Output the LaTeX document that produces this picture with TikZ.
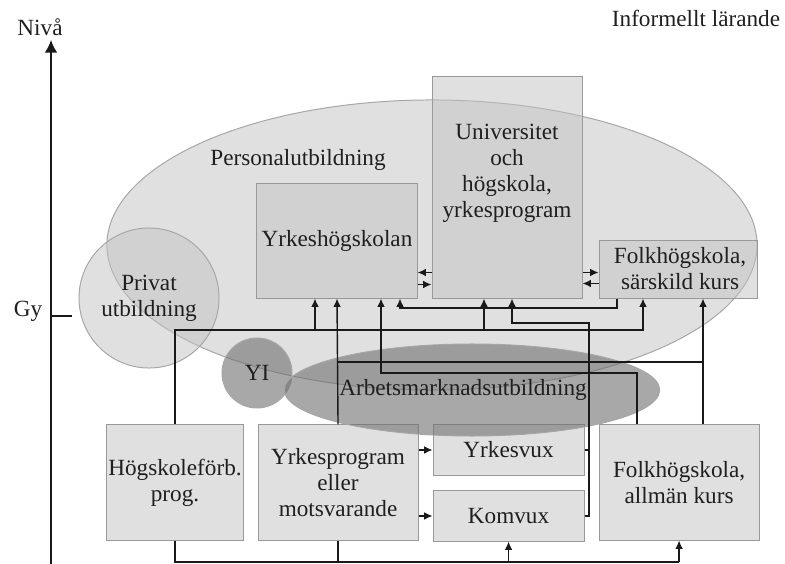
\documentclass[tikz,border=0pt]{standalone}
\usepackage{fontspec}
\setmainfont{Liberation Serif}
\usetikzlibrary{shapes.geometric, arrows.meta, positioning}

\begin{document}
\begin{tikzpicture}[x=0.025cm, y=-0.025cm, >={Latex[length=6pt,width=5.5pt]},
  font=\fontsize{16.5pt}{18.5pt}\selectfont, text=black!88,
  box/.style={draw=black!40, line width=0.7pt, fill=black!24, fill opacity=0.5,
    text opacity=1, inner sep=0pt, align=center},
  bubble/.style={ellipse, draw=black!35, line width=0.7pt, fill=black!24,
    fill opacity=0.5, text opacity=1, inner sep=0pt, align=center},
  darkbubble/.style={bubble, fill=black!57, fill opacity=0.6},
  link/.style={draw=black!90, line width=1pt}]
\useasboundingbox (0,0) rectangle (785,564);

% personalutbildning
\node[bubble, minimum width=16.25cm, minimum height=7.25cm] (personal) at (432,245) {};

% upper row
\node[box, minimum width=4cm, minimum height=2.85cm] (yhs) at (337,241) {Yrkeshögskolan};
\node[box, minimum width=3.75cm, minimum height=5.525cm, right=0.35cm of yhs.south east, anchor=south west] (univ)
  {Universitet\\och\\högskola,\\yrkesprogram\\ \strut};
\node[box, minimum width=3.95cm, minimum height=1.45cm, right=0.4cm of univ.south east, anchor=south west] (fhsk)
  {\hspace*{0.1cm}Folkhögskola,\\\hspace*{0.1cm}särskild kurs};

% lower row
\node[box, minimum width=3.4cm, minimum height=2.875cm] (hfp) at (175,482.5) {Högskoleförb.\\prog.};
\node[box, minimum width=4cm, minimum height=2.875cm, right=0.35cm of hfp] (yrkprog) {Yrkesprogram\\eller\\motsvarande};
\node[box, minimum width=3.775cm, minimum height=1.25cm, right=0.35cm of yrkprog.north east, anchor=north west] (yrkesvux) {Yrkesvux};
\node[box, minimum width=3.775cm, minimum height=1.25cm, below=0.375cm of yrkesvux] (komvux) {Komvux};
\node[box, minimum width=4cm, minimum height=2.875cm, right=0.35cm of yrkesvux.north east, anchor=north west] (fhak)
  {Folkhögskola,\\allmän kurs};

% bubbles
\node[bubble, circle, minimum size=3.5cm] (privat) at (149,298) {Privat\\utbildning};
\node[darkbubble, circle, minimum size=1.75cm] (yi) at (257,373) {YI};
\node[darkbubble, minimum width=8.75cm, minimum height=2.3cm] (amu) at (472,390) {Arbetsmarknadsutbildning\hspace*{0.45cm}};

% labels
\node (niva) at (40,27) {Nivå};
\node (gy) at (28,311) {Gy};
\node (informellt) at (696,18) {Informellt lärande};
\node (personallbl) at (298,160) {Personalutbildning};

% axis
\coordinate (axisbot) at (51,564);
\coordinate (axistop) at (51,40);
\coordinate (gytick) at (72,316);
\draw[link, -{Latex[length=9pt,width=9pt]}] (axisbot) -- (axistop);
\draw[link] (axisbot |- gytick) -- (gytick);

% junctions
\coordinate (ja) at (643,330);
\coordinate (jb) at (315,330);
\coordinate (jc) at (484,330);
\coordinate (jd) at (703,362);
\coordinate (je) at (637,373);
\coordinate (jf) at (381,373);
\coordinate (jg) at (617,308);
\coordinate (jh) at (400,308);
\coordinate (ji) at (589,323);
\coordinate (jj) at (512,323);
\coordinate (botrow) at (0,562);

% connectors
\draw[link,->] (hfp.north) |- (ja) -- (ja |- fhsk.south);
\draw[link,->] (jb) -- (jb |- yhs.south);
\draw[link,->] (jc) -- (jc |- univ.south);
\draw[link,->] (yrkprog.north) -- (yhs.south);
\draw[link] (yrkprog.north |- jd) -- (jd);
\draw[link,->] (jd |- fhak.north) -- (jd |- fhsk.south);
\draw[link,->] (je |- fhak.north) -- (je) -- (jf) -- (jf |- yhs.south);
\draw[link,->] (jg |- fhsk.south) -- (jg) -- (jh) -- (jh |- yhs.south);
\draw[link,->] (komvux.east) -| (ji) -- (jj) -- (jj |- univ.south);
\draw[link] (yrkesvux.east) -- (yrkesvux.east -| ji);

\draw[link,->] ([yshift=0.65cm]univ.south west) -- ([yshift=0.65cm]yhs.south east);
\draw[link,->] ([yshift=0.35cm]yhs.south east) -- ([yshift=0.35cm]univ.south west);
\draw[link,->] ([yshift=0.65cm]univ.south east) -- ([yshift=0.65cm]fhsk.south west);
\draw[link,->] ([yshift=0.375cm]fhsk.south west) -- ([yshift=0.375cm]univ.south east);

\draw[link,->] (yrkprog.east |- yrkesvux.west) -- (yrkesvux.west);
\draw[link,->] (yrkprog.east |- komvux.west) -- (komvux.west);

\draw[link] (hfp.south) |- (fhak.south |- botrow);
\draw[link] (yrkprog.south) -- (yrkprog.south |- botrow);
\draw[link,->] (komvux.south |- botrow) -- (komvux.south);
\draw[link,->] (fhak.south |- botrow) -- (fhak.south);
\end{tikzpicture}
\end{document}
